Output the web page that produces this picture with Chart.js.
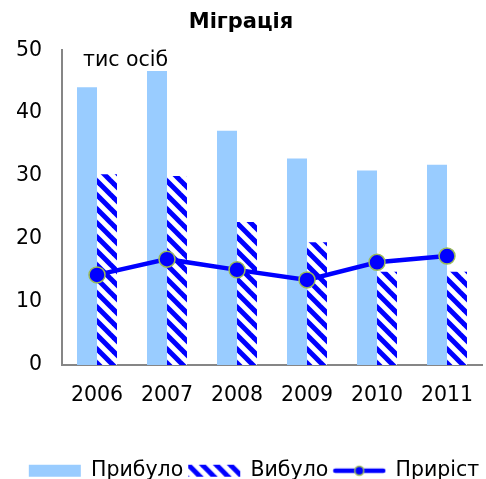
<!DOCTYPE html>
<html>
<head>
<meta charset="utf-8">
<script src="https://cdn.jsdelivr.net/npm/chart.js@4.4.1/dist/chart.umd.min.js"></script>
<style>
  html, body { margin: 0; padding: 0; background: #fff; overflow: hidden; }
  #wrap { width: 486px; height: 479px; }
</style>
</head>
<body>
<div id="wrap"><canvas id="migrationChart"></canvas></div>
<script>
const years = ['2006', '2007', '2008', '2009', '2010', '2011'];
const arrived = [44.1, 46.7, 37.2, 32.8, 30.9, 31.8];
const departed = [30.3, 30.0, 22.7, 19.5, 14.8, 14.8];
const growth = [14.3, 16.8, 15.1, 13.5, 16.3, 17.3];
const yTicks = [0, 10, 20, 30, 40, 50];

const FONT = 'DejaVu Sans';
const FS = 20.5;
const lightBlue = '#99CCFF';
const blue = '#0000FF';
const markerEdge = '#9BBB59';

// diagonal hatch for the "Вибуло" bars
function makeHatch() {
    const size = 14;
    const c = document.createElement('canvas');
    c.width = size; c.height = size;
    const g = c.getContext('2d');
    g.fillStyle = '#fff';
    g.fillRect(0, 0, size, size);
    g.strokeStyle = blue;
    g.lineWidth = 5;
    for (let k = -1; k <= 1; k++) {
        g.beginPath();
        g.moveTo(k * size - 2, -2);
        g.lineTo(k * size + size + 2, size + 2);
        g.stroke();
    }
    return g.createPattern(c, 'repeat');
}
const hatch = makeHatch();

// little legend swatches
function swatch(draw) {
    const c = document.createElement('canvas');
    c.width = 54; c.height = 14;
    draw(c.getContext('2d'));
    return c;
}
const boxArrived = swatch(g => { g.fillStyle = lightBlue; g.fillRect(1, 1, 52, 12); });
const boxDeparted = swatch(g => { g.fillStyle = hatch; g.fillRect(1, 1, 52, 12); });
const boxGrowth = swatch(g => {
    g.strokeStyle = blue; g.lineWidth = 4.5; g.lineCap = 'round';
    g.beginPath(); g.moveTo(3, 7); g.lineTo(51, 7); g.stroke();
    g.beginPath(); g.arc(27, 7, 4.5, 0, Math.PI * 2);
    g.fillStyle = blue; g.fill();
    g.strokeStyle = markerEdge; g.lineWidth = 1.5; g.stroke();
});

// caption inside the plot + nudge legend to the right like the original
const extras = {
    id: 'extras',
    afterLayout(chart) {
        chart.legend.left += 13;
        chart.legend.right += 13;
    },
    afterDraw(chart) {
        const ctx = chart.ctx;
        ctx.save();
        ctx.font = FS + 'px "' + FONT + '"';
        ctx.fillStyle = '#000';
        ctx.textBaseline = 'middle';
        ctx.fillText('тис осіб', chart.chartArea.left + 21, chart.chartArea.top + 10);
        ctx.restore();
    }
};

const ctx = document.getElementById('migrationChart').getContext('2d');
const chart = new Chart(ctx, {
    data: {
        labels: years,
        datasets: [{
            type: 'line',
            label: 'Приріст',
            data: growth,
            borderColor: blue,
            borderWidth: 4.5,
            pointRadius: 8,
            pointBackgroundColor: blue,
            pointBorderColor: markerEdge,
            pointBorderWidth: 1.5,
            tension: 0,
            order: 0
        }, {
            type: 'bar',
            label: 'Прибуло',
            data: arrived,
            backgroundColor: lightBlue,
            categoryPercentage: 40 / 70,
            barPercentage: 1,
            order: 1
        }, {
            type: 'bar',
            label: 'Вибуло',
            data: departed,
            backgroundColor: hatch,
            categoryPercentage: 40 / 70,
            barPercentage: 1,
            order: 1
        }]
    },
    options: {
        responsive: true,
        maintainAspectRatio: false,
        animation: false,
        layout: { autoPadding: false, padding: { left: 0, right: 4, top: 0, bottom: -12 } },
        plugins: {
            tooltip: { enabled: false },
            title: {
                display: true,
                text: 'Міграція',
                color: '#000',
                font: { family: FONT, size: 21, weight: 'bold' },
                padding: { top: 10, bottom: 15 }
            },
            legend: {
                position: 'bottom',
                labels: {
                    color: '#000',
                    font: { family: FONT, size: FS },
                    usePointStyle: true,
                    pointStyleWidth: 52,
                    padding: 5,
                    generateLabels: () => [
                        { text: 'Прибуло', pointStyle: boxArrived, fontColor: '#000', datasetIndex: 1 },
                        { text: 'Вибуло', pointStyle: boxDeparted, fontColor: '#000', datasetIndex: 2 },
                        { text: 'Приріст', pointStyle: boxGrowth, fontColor: '#000', datasetIndex: 0 }
                    ]
                }
            }
        },
        scales: {
            x: {
                grid: { display: false, drawTicks: false },
                border: { display: true, color: '#868686', width: 2 },
                ticks: { color: '#000', font: { family: FONT, size: FS }, padding: 18 },
                afterFit: s => { s.height += 30; s.paddingLeft = 0; s.paddingRight = 0; }
            },
            y: {
                min: 0,
                max: 50,
                afterBuildTicks: s => { s.ticks = yTicks.map(v => ({ value: v })); },
                grid: { display: false, drawTicks: false },
                border: { display: true, color: '#868686', width: 2 },
                ticks: { color: '#000', font: { family: FONT, size: FS }, padding: 20 },
                afterFit: s => { s.width = 62; }
            }
        }
    },
    plugins: [extras]
});
</script>
</body>
</html>
